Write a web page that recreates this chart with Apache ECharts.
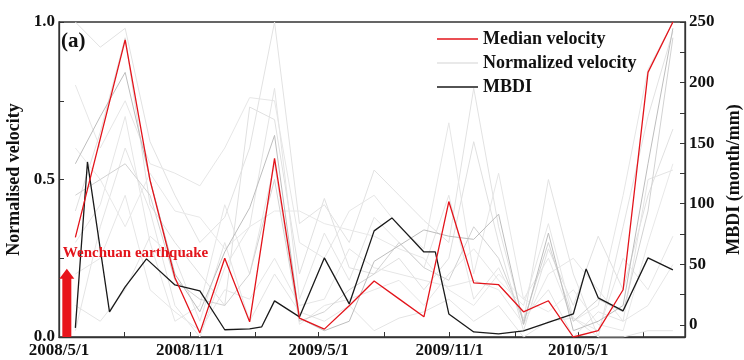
<!DOCTYPE html>
<html>
<head>
<meta charset="utf-8">
<script src="https://cdn.jsdelivr.net/npm/echarts@6/dist/echarts.min.js"></script>
<style>
  html, body { margin: 0; padding: 0; background: #fff; }
  #chart { width: 744px; height: 360px; }
</style>
</head>
<body>
<div id="chart"></div>
<script>
// acquisition dates shared by the velocity series (35-day repeat)
const dates = [
  '2008-05-24', '2008-06-28', '2008-08-02', '2008-09-06', '2008-10-11',
  '2008-11-15', '2008-12-20', '2009-01-24', '2009-02-28', '2009-04-04',
  '2009-05-09', '2009-06-13', '2009-07-18', '2009-08-22', '2009-09-26',
  '2009-10-31', '2009-12-05', '2010-01-09', '2010-02-13', '2010-03-20',
  '2010-04-24', '2010-05-29', '2010-07-03', '2010-08-07', '2010-09-11'
];

const medianVelocity = [
  0.316, 0.63, 0.943, 0.497, 0.188, 0.013, 0.25, 0.048, 0.567, 0.06,
  0.025, 0.099, 0.178, 0.121, 0.064, 0.43, 0.172, 0.166, 0.08, 0.115,
  0.0, 0.02, 0.15, 0.84, 1.0
];

// individual normalised velocity curves (faint lines)
const nv1 = [0.55, 0.70, 0.84, 0.50, 0.20, 0.08, 0.27, 0.41, 0.64, 0.06, 0.02, 0.05, 0.24, 0.29, 0.34, 0.32, 0.31, 0.39, 0.04, 0.33, 0.02, 0.05, 0.10, 0.55, 0.98];
const nv2 = [1.00, 0.92, 0.98, 0.62, 0.45, 0.30, 0.38, 0.60, 1.00, 0.36, 0.42, 0.30, 0.53, 0.45, 0.37, 0.30, 0.79, 0.35, 0.05, 0.50, 0.20, 0.00, 0.35, 0.70, 0.97];
const nv3 = [0.80, 0.60, 0.75, 0.55, 0.52, 0.48, 0.60, 0.76, 0.75, 0.30, 0.25, 0.40, 0.45, 0.35, 0.28, 0.68, 0.20, 0.52, 0.12, 0.25, 0.05, 0.10, 0.45, 0.85, 1.00];
const nv4 = [0.40, 0.65, 0.95, 0.42, 0.30, 0.20, 0.10, 0.73, 0.69, 0.20, 0.44, 0.22, 0.20, 0.25, 0.15, 0.25, 0.62, 0.30, 0.02, 0.28, 0.10, 0.32, 0.15, 0.45, 0.66];
const nv5 = [0.02, 0.35, 0.60, 0.40, 0.10, 0.00, 0.22, 0.35, 0.79, 0.12, 0.33, 0.18, 0.38, 0.30, 0.22, 0.45, 0.12, 0.22, 0.06, 0.15, 0.00, 0.08, 0.05, 0.50, 0.53];
const nv6 = [0.30, 0.42, 0.70, 0.30, 0.05, 0.10, 0.42, 0.20, 0.55, 0.04, 0.10, 0.12, 0.15, 0.18, 0.10, 0.20, 0.28, 0.18, 0.10, 0.36, 0.06, 0.02, 0.25, 0.15, 0.32];
const nv7 = [0.60, 0.50, 0.35, 0.52, 0.40, 0.38, 0.28, 0.35, 0.40, 0.40, 0.36, 0.34, 0.32, 0.28, 0.25, 0.15, 0.10, 0.20, 0.12, 0.08, 0.15, 0.04, 0.02, 0.30, 0.55];
const nv8 = [0.10, 0.05, 0.15, 0.32, 0.25, 0.05, 0.30, 0.05, 0.20, 0.08, 0.05, 0.10, 0.02, 0.06, 0.08, 0.12, 0.05, 0.10, 0.00, 0.05, 0.06, 0.00, 0.00, 0.02, 0.02];
const nv9 = [0.45, 0.50, 0.55, 0.45, 0.18, 0.12, 0.10, 0.20, 0.50, 0.05, 0.08, 0.15, 0.20, 0.30, 0.22, 0.18, 0.35, 0.25, 0.05, 0.30, 0.05, 0.12, 0.08, 0.40, 0.95];
const nv10 = [0.20, 0.25, 0.45, 0.15, 0.08, 0.02, 0.15, 0.12, 0.25, 0.10, 0.12, 0.28, 0.22, 0.20, 0.18, 0.16, 0.18, 0.15, 0.04, 0.20, 0.25, 0.15, 0.05, 0.10, 0.23];
const normalizedCurves = [nv2, nv3, nv4, nv5, nv6, nv7, nv8, nv10, nv9, nv1];
const normalizedColors = ['#e2e2e2', '#e6e6e6', '#e0e0e0', '#e4e4e4', '#e6e6e6', '#e8e8e8', '#e4e4e4', '#e6e6e6', '#d2d2d2', '#bdbdbd'];

// MBDI (month/mm)
const mbdiDates = [
  '2008-05-24', '2008-06-10', '2008-07-11', '2008-08-02', '2008-09-01',
  '2008-10-11', '2008-11-15', '2008-12-20', '2009-01-24', '2009-02-10',
  '2009-02-28', '2009-04-04', '2009-05-09', '2009-06-13', '2009-07-18',
  '2009-08-12', '2009-09-26', '2009-10-12', '2009-10-31', '2009-12-05',
  '2010-01-09', '2010-02-13', '2010-03-20', '2010-04-24', '2010-05-12',
  '2010-05-29', '2010-07-03', '2010-08-07', '2010-09-11'
];
const mbdi = [
  -2.5, 134.5, 10.7, 31.4, 54.5, 33, 28, -4, -3.3, -1.6,
  19.8, 6.6, 55.3, 17.3, 77.6, 88.3, 60.2, 60.2, 9, -5.8,
  -7.4, -5, 2, 9, 46.2, 22.3, 11.6, 55.3, 45.4
];

const tickDates = ['2008-05-01', '2008-08-01', '2008-11-01', '2009-02-01', '2009-05-01',
  '2009-08-01', '2009-11-01', '2010-02-01', '2010-05-01', '2010-08-01'];
const labelDates = ['2008-05-01', '2008-11-01', '2009-05-01', '2009-11-01', '2010-05-01'];
const leftTicks = [0, 0.25, 0.5, 0.75, 1];
const rightTicks = [0, 25, 50, 75, 100, 125, 150, 175, 200, 225, 250];
const rightLabels = [0, 50, 100, 150, 200, 250];
const quakeDate = '2008-05-12';

function toTime(s) {
  const [y, m, d] = s.split('-').map(Number);
  return new Date(y, m - 1, d).getTime();
}

const FONT = '"Liberation Serif", "DejaVu Serif", serif';
const labelStyle = { fontFamily: FONT, fontWeight: 'bold', fontSize: 17, color: '#111' };
const axisLine = { show: true, lineStyle: { color: '#333', width: 1.3 } };

const chart = echarts.init(document.getElementById('chart'));

const series = normalizedCurves.map((vals, k) => ({
  name: 'Normalized velocity',
  type: 'line',
  symbol: 'none',
  yAxisIndex: 0,
  lineStyle: { color: normalizedColors[k], width: 1 },
  itemStyle: { color: '#e2e2e2' },
  z: 1,
  data: dates.map((d, i) => [toTime(d), vals[i]])
}));

series.push({
  name: 'MBDI',
  type: 'line',
  symbol: 'none',
  yAxisIndex: 1,
  lineStyle: { color: '#1a1a1a', width: 1.3 },
  itemStyle: { color: '#1a1a1a' },
  z: 3,
  data: mbdiDates.map((d, i) => [toTime(d), mbdi[i]])
});

series.push({
  name: 'Median velocity',
  type: 'line',
  symbol: 'none',
  yAxisIndex: 0,
  lineStyle: { color: '#e3141b', width: 1.3 },
  itemStyle: { color: '#e3141b' },
  z: 4,
  data: dates.map((d, i) => [toTime(d), medianVelocity[i]])
});

chart.setOption({
  animation: false,
  grid: {
    left: 59, right: 59, top: 22, bottom: 23,
    outerBoundsMode: 'none',
    show: true, borderColor: '#333', borderWidth: 1.3
  },
  legend: {
    data: ['Median velocity', 'Normalized velocity', 'MBDI'],
    orient: 'vertical',
    left: 432,
    top: 24,
    icon: 'rect',
    itemWidth: 41,
    itemHeight: 1.5,
    itemGap: 4,
    textStyle: { fontFamily: FONT, fontWeight: 'bold', fontSize: 18, color: '#111', lineHeight: 20 }
  },
  xAxis: {
    type: 'value',
    min: toTime('2008-05-01'),
    max: toTime('2010-09-28'),
    axisLine: axisLine,
    splitLine: { show: false },
    axisTick: {
      inside: true, length: 5, lineStyle: { color: '#333' },
      customValues: tickDates.map(toTime)
    },
    axisLabel: Object.assign({}, labelStyle, {
      margin: 5,
      customValues: labelDates.map(toTime),
      formatter: v => {
        const d = new Date(v);
        return d.getFullYear() + '/' + (d.getMonth() + 1) + '/' + d.getDate();
      }
    })
  },
  yAxis: [
    {
      type: 'value',
      min: 0,
      max: 1,
      position: 'left',
      name: 'Normalised velocity',
      nameLocation: 'middle',
      nameRotate: 90,
      nameGap: 29,
      nameTextStyle: { fontFamily: FONT, fontWeight: 'bold', fontSize: 18, color: '#111' },
      axisLine: axisLine,
      splitLine: { show: false },
      axisTick: { inside: true, length: 5, lineStyle: { color: '#333' }, customValues: leftTicks },
      axisLabel: Object.assign({}, labelStyle, {
        margin: 4,
        customValues: [0, 0.5, 1],
        formatter: v => v.toFixed(1)
      })
    },
    {
      type: 'value',
      min: -10,
      max: 250,
      position: 'right',
      name: 'MBDI (month/mm)',
      nameLocation: 'middle',
      nameRotate: 90,
      nameGap: 40,
      nameTextStyle: { fontFamily: FONT, fontWeight: 'bold', fontSize: 18, color: '#111' },
      axisLine: axisLine,
      splitLine: { show: false },
      axisTick: { inside: true, length: 5, lineStyle: { color: '#333' }, customValues: rightTicks },
      axisLabel: Object.assign({}, labelStyle, { margin: 4, customValues: rightLabels })
    }
  ],
  series: series
});

// earthquake arrow + panel tag
const base = chart.convertToPixel({ xAxisIndex: 0, yAxisIndex: 0 }, [toTime(quakeDate), 0]);
const tip = chart.convertToPixel({ xAxisIndex: 0, yAxisIndex: 0 }, [toTime(quakeDate), 0.217]);
const cx = base[0], by = base[1], ty = tip[1];
chart.setOption({
  graphic: [
    {
      type: 'polygon',
      z: 10,
      shape: {
        points: [
          [cx - 4.5, by], [cx - 4.5, ty + 10], [cx - 7.5, ty + 10], [cx, ty],
          [cx + 7.5, ty + 10], [cx + 4.5, ty + 10], [cx + 4.5, by]
        ]
      },
      style: { fill: '#e8141b' }
    },
    {
      type: 'text',
      z: 10,
      x: cx - 4,
      y: ty - 16,
      style: {
        text: 'Wenchuan earthquake',
        fill: '#e3141b',
        font: 'bold 15px ' + FONT,
        verticalAlign: 'middle'
      }
    },
    {
      type: 'text',
      z: 10,
      left: 61,
      top: 31,
      style: { text: '(a)', fill: '#111', font: 'bold 21px ' + FONT }
    }
  ]
});
</script>
</body>
</html>
